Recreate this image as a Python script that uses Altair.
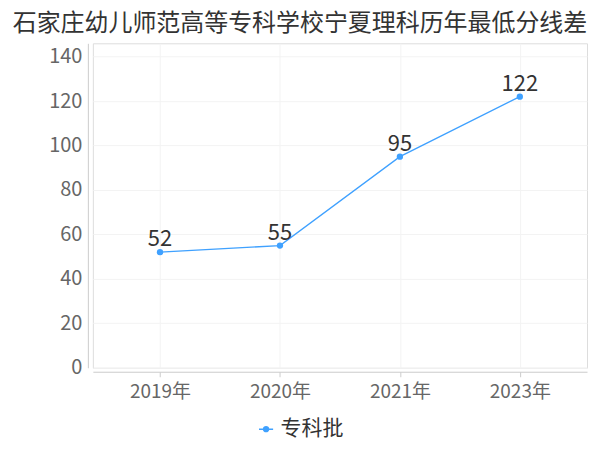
import altair as alt
import pandas as pd

years = ["2019年", "2020年", "2021年", "2023年"]
scores = [52, 55, 95, 122]
series = ["专科批"] * 4
y_ticks = [0, 20, 40, 60, 80, 100, 120, 140]

df = pd.DataFrame({"year": years, "score": scores, "series": series})

FONT = "Noto Sans CJK SC"
BLUE = "#3fa1ff"

x = alt.X("year:N", sort=years, title=None,
          scale=alt.Scale(type="point", padding=0.56),
          axis=alt.Axis(labelAngle=0, labelFontSize=19, labelColor="#666666", labelFont=FONT,
                        labelPadding=6, tickSize=5, tickColor="#cccccc", domainColor="#cccccc",
                        grid=True, gridColor="#f3f3f3", offset=4))
y = alt.Y("score:Q", title=None,
          scale=alt.Scale(domain=[0, 146], nice=False),
          axis=alt.Axis(values=y_ticks, labelFontSize=20, labelColor="#666666", labelFont=FONT,
                        labelPadding=6, ticks=False, domainColor="#cccccc",
                        grid=True, gridColor="#f3f3f3", offset=5))

color = alt.Color("series:N", scale=alt.Scale(range=[BLUE]),
                  legend=alt.Legend(title=None, orient="none", legendX=163, legendY=376,
                                    labelFontSize=21, labelColor="#333333", labelFont=FONT,
                                    symbolType="M-1,0L-0.35,0M0.35,0L1,0M-0.35,0A0.35,0.35 0 1,1 0.35,0A0.35,0.35 0 1,1 -0.35,0Z",
                                    symbolSize=200, symbolStrokeWidth=1.5, symbolFillColor=BLUE,
                                    symbolStrokeColor=BLUE, labelOffset=4))

base = alt.Chart(df).encode(x=x, y=y)
line = base.mark_line(strokeWidth=1.3, color=BLUE).encode(color=color)
pts = base.mark_circle(size=40, opacity=1, color=BLUE)
labels = base.mark_text(dy=-13, fontSize=22, color="#333333", font=FONT).encode(text="score:Q")

chart = (line + pts + labels).properties(
    width=495, height=325,
    autosize=alt.AutoSizeParams(type="none"),
    padding={"left": 85, "top": 35, "right": 5, "bottom": 75},
    title=alt.TitleParams("石家庄幼儿师范高等专科学校宁夏理科历年最低分线差",
                          fontSize=24, font=FONT, fontWeight="normal", color="#333333",
                          anchor="middle", dx=-40, offset=7),
).configure_view(stroke=None).configure(background="white")

chart.save("out.html", embed_options={"renderer": "svg", "actions": False})
